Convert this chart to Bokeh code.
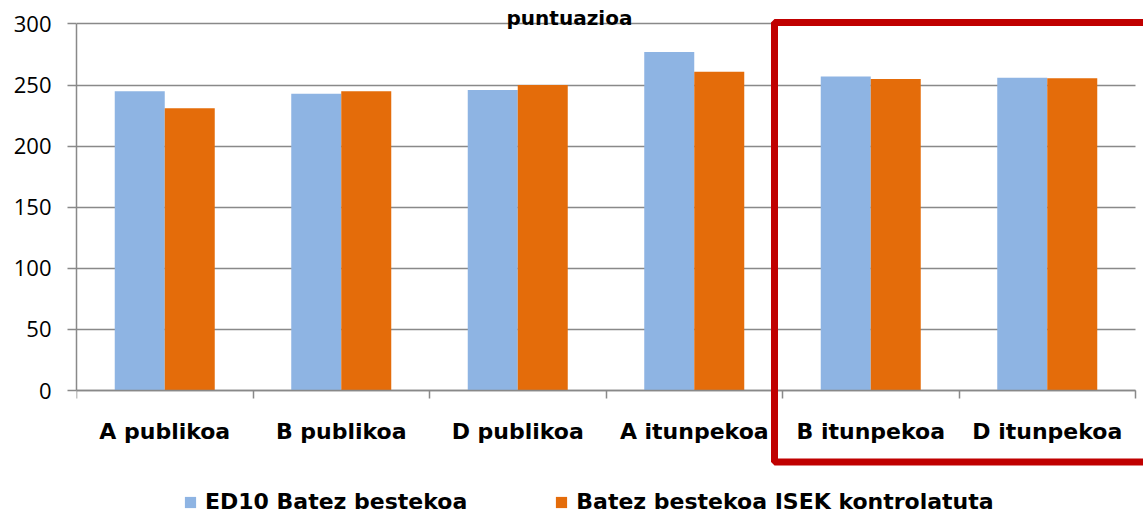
from bokeh.plotting import figure
from bokeh.models import (ColumnDataSource, Range1d, LinearAxis,
                          FixedTicker, Legend, LegendItem, BoxAnnotation, Label)
from bokeh.transform import dodge
from bokeh.embed import file_html
from bokeh.resources import INLINE

# ---- data ----
categories = ["A publikoa", "B publikoa", "D publikoa",
              "A itunpekoa", "B itunpekoa", "D itunpekoa"]
ed10_mean = [245, 243, 246, 277, 257, 256]
isek_controlled = [231, 245, 250, 261, 255, 255.5]
series_names = ["ED10 Batez bestekoa", "Batez bestekoa ISEK kontrolatuta"]
y_ticks = [0, 50, 100, 150, 200, 250, 300]
title_text = "puntuazioa"

BLUE = "#8EB4E3"
ORANGE = "#E46C0A"
GRAY = "#898989"
LABEL_FONT = "DejaVu Sans"

W, H = 1143, 515
LEFT = 76                     # frame left (pixel)
SLOT = 176.5                  # pixel width of one category slot
Y0_PX, PX_PER_UNIT = 390, 1.22167

n = len(categories)
centers = [i + 0.5 for i in range(n)]
bounds = [float(i) for i in range(n + 1)]

src = ColumnDataSource(dict(x=centers, cat=categories,
                            blue=ed10_mean, orange=isek_controlled))

p = figure(width=W, height=H,
           x_range=Range1d(0, (W - LEFT) / SLOT),
           y_range=Range1d(-(H - Y0_PX) / PX_PER_UNIT, Y0_PX / PX_PER_UNIT),
           output_backend="svg", toolbar_location=None,
           x_axis_location=None, y_axis_location="left",
           min_border_left=LEFT, min_border_right=0,
           min_border_top=0, min_border_bottom=0)

bw = 0.2833
r1 = p.vbar(x=dodge("x", -bw / 2), top="blue", width=bw,
            source=src, fill_color=BLUE, line_color=None)
r2 = p.vbar(x=dodge("x", bw / 2), top="orange", width=bw,
            source=src, fill_color=ORANGE, line_color=None)

# y axis
ya = p.yaxis[0]
ya.ticker = FixedTicker(ticks=y_ticks)
ya.bounds = (y_ticks[0], y_ticks[-1])
ya.major_tick_out = 9
ya.major_tick_in = 0
ya.minor_tick_out = 0
ya.minor_tick_in = 0
ya.major_tick_line_color = GRAY
ya.major_tick_line_width = 1.5
ya.axis_line_color = GRAY
ya.axis_line_width = 1.5
ya.major_label_standoff = 16
ya.major_label_text_font = "Open Sans"
ya.major_label_text_font_size = "22px"
ya.major_label_text_color = "#000000"

p.ygrid.ticker = FixedTicker(ticks=y_ticks)
p.ygrid.cross_bounds = (0, n)
p.ygrid.grid_line_color = GRAY
p.ygrid.grid_line_width = 1.5
p.xgrid.visible = False
p.outline_line_color = None

# x axis at y = 0: labels at category centres, ticks at category boundaries
xa = LinearAxis(ticker=FixedTicker(ticks=centers, minor_ticks=bounds),
                fixed_location=0, bounds=(0, n))
xa.major_label_overrides = {c: name for c, name in zip(centers, categories)}
xa.major_tick_out = 0
xa.major_tick_in = 0
xa.major_tick_line_color = None
xa.minor_tick_out = 8
xa.minor_tick_in = 0
xa.minor_tick_line_color = GRAY
xa.minor_tick_line_width = 1.5
xa.axis_line_color = GRAY
xa.axis_line_width = 1.5
xa.major_label_standoff = 20
xa.major_label_text_font = LABEL_FONT
xa.major_label_text_font_style = "bold"
xa.major_label_text_font_size = "22px"
xa.major_label_text_color = "#000000"
p.add_layout(xa, "below")

# legend
legend = Legend(items=[LegendItem(label=series_names[0], renderers=[r1]),
                       LegendItem(label=series_names[1], renderers=[r2])],
                orientation="horizontal", location=(107, 1),
                glyph_width=14, glyph_height=14, label_standoff=8, spacing=87,
                padding=0, margin=0, border_line_color=None,
                background_fill_alpha=0,
                label_text_font=LABEL_FONT, label_text_font_style="bold",
                label_text_font_size="22px", label_text_color="#000000")
p.add_layout(legend, "center")

# red highlight box around the last two categories
box = BoxAnnotation(left=3.9547, right=7.0, top=301.2, bottom=-58.5,
                    fill_alpha=0, line_color="#C00000", line_alpha=1.0,
                    line_width=7)
p.add_layout(box)

# title (the reference shows it cut at the top edge)
title = Label(x=2.793, y=(Y0_PX - 17) / PX_PER_UNIT, text=title_text,
              text_align="center", text_baseline="alphabetic",
              text_font=LABEL_FONT, text_font_style="bold",
              text_font_size="20px", text_color="#000000")
p.add_layout(title)

open("out.html", "w").write(file_html(p, INLINE))
